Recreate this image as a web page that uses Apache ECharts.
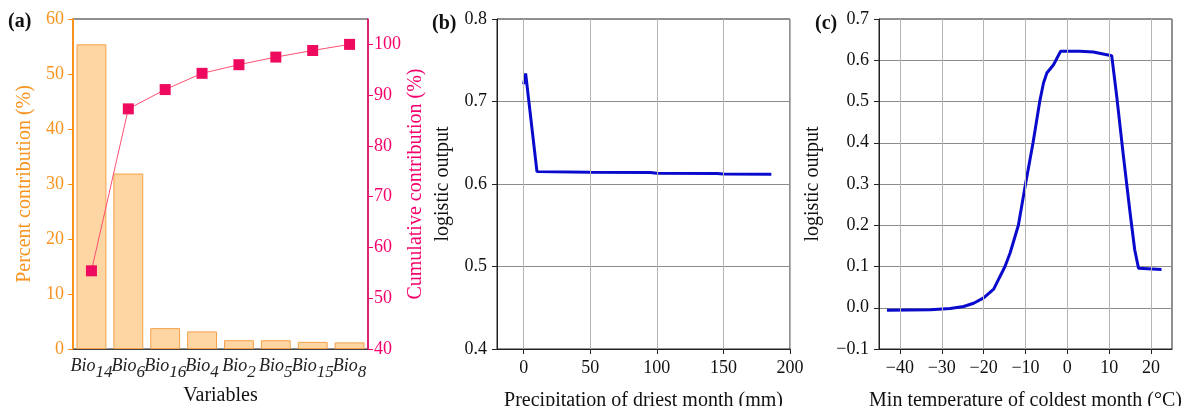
<!DOCTYPE html>
<html>
<head>
<meta charset="utf-8">
<script src="https://cdn.jsdelivr.net/npm/echarts@6/dist/echarts.min.js"></script>
<style>
  html, body { margin: 0; padding: 0; background: #fff; }
  #chart { width: 1189px; height: 406px; }
</style>
</head>
<body>
<div id="chart"></div>
<script>
// panel (a)
const variables = ['Bio14', 'Bio6', 'Bio16', 'Bio4', 'Bio2', 'Bio5', 'Bio15', 'Bio8'];
const percentContribution = [55.4, 31.9, 3.8, 3.2, 1.6, 1.6, 1.3, 1.2];
const cumulativeContribution = [55.4, 87.3, 91.1, 94.3, 96.0, 97.5, 98.8, 100];

// panel (b): precipitation of driest month
const precipCurve = [[0, 0.721], [1.5, 0.734], [3, 0.733], [10, 0.615], [50, 0.6142], [95, 0.6138],
  [100, 0.6130], [145, 0.6128], [150, 0.6120], [186, 0.6118]];
const precipTicks = [0, 50, 100, 150, 200];

// panel (c): min temperature of coldest month
const tempCurve = [[-43.1, -0.006], [-32.7, -0.005], [-28, -0.002], [-24.8, 0.003], [-22.4, 0.011],
  [-20, 0.024], [-17.6, 0.045], [-14.9, 0.1], [-13.7, 0.132], [-11.7, 0.2], [-10.1, 0.294],
  [-8.2, 0.40], [-6.6, 0.50], [-5.7, 0.545], [-4.9, 0.569], [-3.3, 0.589], [-1.6, 0.622],
  [3, 0.622], [6.2, 0.620], [10.6, 0.611], [11.8, 0.512], [13.4, 0.367], [15, 0.229],
  [16.1, 0.14], [17, 0.096], [22.5, 0.093]];
const tempTicks = [-40, -30, -20, -10, 0, 10, 20];

const serif = '"Liberation Serif", "Times New Roman", serif';
const orange = '#F7931E';
const pink = '#F5006A';
const minus = v => String(v).replace('-', '\u2212');

function gridLines(xi, yi, ticks) {
  return {
    type: 'line', xAxisIndex: xi, yAxisIndex: yi, data: [], z: 1, silent: true,
    markLine: {
      silent: true, symbol: ['none', 'none'], label: {show: false}, animation: false,
      lineStyle: {color: '#b4b4b4', type: 'solid', width: 1},
      data: ticks.map(t => ({xAxis: t}))
    }
  };
}

const axisText = {fontFamily: serif, fontSize: 18, color: '#111'};
const nameText = {fontFamily: serif, fontSize: 20, color: '#111'};

let option = {
  animation: false,
  grid: [
    {left: 73, top: 19, width: 295, bottom: 57, show: true, borderColor: '#222', borderWidth: 1, outerBoundsMode: 'none'},
    {left: 497, top: 19, width: 293, bottom: 57, show: true, borderColor: '#222', borderWidth: 1, outerBoundsMode: 'none'},
    {left: 879, top: 19, width: 293, bottom: 57, show: true, borderColor: '#222', borderWidth: 1, outerBoundsMode: 'none'}
  ],
  xAxis: [
    {
      type: 'category', gridIndex: 0, data: variables,
      name: 'Variables', nameLocation: 'middle', nameGap: 37, nameTextStyle: nameText,
      axisLine: {lineStyle: {color: '#444'}},
      axisTick: {alignWithLabel: true, length: 5, lineStyle: {color: '#444'}},
      axisLabel: {
        interval: 0, margin: 3,
        formatter: v => '{b|Bio}{s|' + v.slice(3) + '}',
        rich: {
          b: {fontFamily: serif, fontSize: 18, fontStyle: 'italic', color: '#222'},
          s: {fontFamily: serif, fontSize: 17, fontStyle: 'italic', color: '#222', padding: [12, 0, 0, 0]}
        }
      }
    },
    {
      type: 'value', gridIndex: 1, min: -20, max: 200,
      name: 'Precipitation of driest month (mm)', nameLocation: 'middle', nameGap: 42, nameTextStyle: nameText,
      axisLine: {onZero: false, lineStyle: {color: '#222'}},
      axisTick: {customValues: precipTicks, length: 5, lineStyle: {color: '#222'}},
      axisLabel: Object.assign({customValues: precipTicks, margin: 10}, axisText),
      splitLine: {show: false}
    },
    {
      type: 'value', gridIndex: 2, min: -45, max: 25,
      name: 'Min temperature of coldest month (\u00B0C)', nameLocation: 'middle', nameGap: 42, nameTextStyle: nameText,
      axisLine: {onZero: false, lineStyle: {color: '#222'}},
      axisTick: {customValues: tempTicks, length: 5, lineStyle: {color: '#222'}},
      axisLabel: Object.assign({customValues: tempTicks, margin: 10, formatter: minus}, axisText),
      splitLine: {show: false}
    }
  ],
  yAxis: [
    {
      type: 'value', gridIndex: 0, min: 0, max: 60, interval: 10,
      name: 'Percent contribution (%)', nameLocation: 'middle', nameGap: 38,
      nameTextStyle: Object.assign({}, nameText, {color: orange}),
      axisLine: {show: true, onZero: false, lineStyle: {color: orange, width: 2}},
      axisTick: {show: true, length: 5, lineStyle: {color: orange}},
      axisLabel: {fontFamily: serif, fontSize: 18, color: orange, margin: 9},
      splitLine: {show: false}
    },
    {
      type: 'value', gridIndex: 0, position: 'right', min: 40, max: 105, interval: 10,
      name: 'Cumulative contribution (%)', nameLocation: 'middle', nameGap: 38,
      nameTextStyle: Object.assign({}, nameText, {color: pink}),
      axisLine: {show: true, onZero: false, lineStyle: {color: pink, width: 1.5}},
      axisTick: {show: true, length: 5, lineStyle: {color: pink}},
      axisLabel: {fontFamily: serif, fontSize: 18, color: pink, margin: 6, showMaxLabel: false},
      splitLine: {show: false}
    },
    {
      type: 'value', gridIndex: 1, min: 0.4, max: 0.8, interval: 0.1,
      name: 'logistic output', nameLocation: 'middle', nameGap: 44, nameTextStyle: nameText,
      axisLine: {show: true, onZero: false, lineStyle: {color: '#222'}},
      axisTick: {show: true, length: 5, lineStyle: {color: '#222'}},
      axisLabel: Object.assign({margin: 10, formatter: v => v.toFixed(1)}, axisText),
      splitLine: {show: true, lineStyle: {color: '#8c8c8c', width: 1}}
    },
    {
      type: 'value', gridIndex: 2, min: -0.1, max: 0.7, interval: 0.1,
      name: 'logistic output', nameLocation: 'middle', nameGap: 56, nameTextStyle: nameText,
      axisLine: {show: true, onZero: false, lineStyle: {color: '#222'}},
      axisTick: {show: true, length: 5, lineStyle: {color: '#222'}},
      axisLabel: Object.assign({margin: 10, formatter: v => minus(v.toFixed(1))}, axisText),
      splitLine: {show: true, lineStyle: {color: '#8c8c8c', width: 1}}
    }
  ],
  series: [
    {
      type: 'bar', xAxisIndex: 0, yAxisIndex: 0, data: percentContribution, barWidth: '81%',
      itemStyle: {color: '#FED6A3', borderColor: '#F6A24A', borderWidth: 1}
    },
    {
      type: 'line', xAxisIndex: 0, yAxisIndex: 1, data: cumulativeContribution,
      symbol: 'rect', symbolSize: 11,
      itemStyle: {color: '#EE0A5E'},
      lineStyle: {color: '#FF4F6F', width: 1}
    },
    gridLines(1, 2, precipTicks),
    {
      type: 'line', xAxisIndex: 1, yAxisIndex: 2, data: precipCurve, showSymbol: false, z: 3,
      lineStyle: {color: '#0A0ACD', width: 3}
    },
    gridLines(2, 3, tempTicks),
    {
      type: 'line', xAxisIndex: 2, yAxisIndex: 3, data: tempCurve, showSymbol: false, z: 3,
      lineStyle: {color: '#0A0ACD', width: 3}
    }
  ],
  graphic: [
    {type: 'text', left: 8, top: 12, style: {text: '(a)', font: 'bold 20px ' + serif, fill: '#111'}},
    {type: 'text', left: 432, top: 14, style: {text: '(b)', font: 'bold 20px ' + serif, fill: '#111'}},
    {type: 'text', left: 815, top: 14, style: {text: '(c)', font: 'bold 20px ' + serif, fill: '#111'}}
  ]
};

let chart = echarts.init(document.getElementById('chart'));
chart.setOption(option);
</script>
</body>
</html>
